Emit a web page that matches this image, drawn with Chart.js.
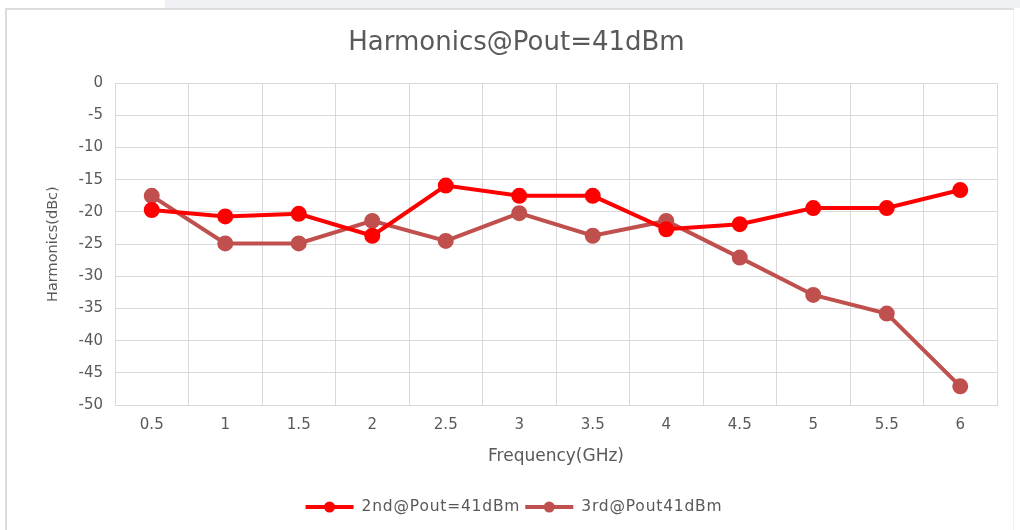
<!DOCTYPE html>
<html>
<head>
<meta charset="utf-8">
<script src="https://cdn.jsdelivr.net/npm/chart.js@4.4.1/dist/chart.umd.min.js"></script>
<style>
  html, body { margin: 0; padding: 0; background: #ffffff; }
  body { width: 1020px; height: 530px; position: relative; overflow: hidden; }
  #band { position: absolute; left: 165px; top: 0; width: 855px; height: 8px; background: #eff0f4; }
  #frame { position: absolute; left: 5px; top: 8px; width: 1006px; height: 530px;
           border-top: 2px solid #dcdcdc; border-left: 2px solid #dcdcdc; border-right: 1px solid #f0f0f0; }
  #wrap { position: absolute; left: 0; top: 0; width: 1020px; height: 530px; }
</style>
</head>
<body>
<div id="band"></div>
<div id="frame"></div>
<div id="wrap"><canvas id="c" width="1020" height="530"></canvas></div>
<script>
const categories = ['0.5','1','1.5','2','2.5','3','3.5','4','4.5','5','5.5','6'];
const second = [-19.7,-20.7,-20.3,-23.7,-15.9,-17.5,-17.5,-22.7,-21.9,-19.4,-19.4,-16.6];
const third  = [-17.5,-24.9,-24.9,-21.4,-24.5,-20.2,-23.7,-21.4,-27.1,-32.9,-35.8,-47.1];
const seriesNames = ['2nd@Pout=41dBm','3rd@Pout41dBm'];
const seriesColors = ['#ff0000','#c0504d'];
const chartTitle = 'Harmonics@Pout=41dBm';
const xTitle = 'Frequency(GHz)';
const yTitle = 'Harmonics(dBc)';

const FONT = '"DejaVu Sans", sans-serif';
const TEXT = '#595959';

const legendPlugin = {
  id: 'excelLegend',
  afterDraw(chart) {
    const ctx = chart.ctx;
    ctx.save();
    ctx.font = '15.5px ' + FONT;
    if ('letterSpacing' in ctx) ctx.letterSpacing = '0.8px';
    ctx.textBaseline = 'middle';
    const y = 507;
    const items = chart.data.datasets.map(d => ({ label: d.label, color: d.borderColor }));
    const lineW = 48, gap = 8, itemGap = 5;
    let total = 0;
    items.forEach((it, i) => { total += lineW + gap + ctx.measureText(it.label).width + (i < items.length - 1 ? itemGap : 0); });
    let x = 514 - total / 2;
    items.forEach(it => {
      ctx.strokeStyle = it.color; ctx.lineWidth = 4;
      ctx.beginPath(); ctx.moveTo(x, y); ctx.lineTo(x + lineW, y); ctx.stroke();
      ctx.fillStyle = it.color;
      ctx.beginPath(); ctx.arc(x + lineW / 2, y, 5.5, 0, Math.PI * 2); ctx.fill();
      x += lineW + gap;
      ctx.fillStyle = TEXT;
      ctx.fillText(it.label, x, y);
      x += ctx.measureText(it.label).width + itemGap;
    });
    ctx.restore();
  }
};

new Chart(document.getElementById('c'), {
  type: 'line',
  data: {
    labels: categories,
    datasets: [
      { label: seriesNames[0], data: second, borderColor: seriesColors[0], backgroundColor: seriesColors[0],
        borderWidth: 4, pointRadius: 6, pointHoverRadius: 6, tension: 0 },
      { label: seriesNames[1], data: third, borderColor: seriesColors[1], backgroundColor: seriesColors[1],
        borderWidth: 4, pointRadius: 6, pointHoverRadius: 6, tension: 0 }
    ]
  },
  options: {
    responsive: false,
    animation: false,
    layout: { padding: { left: 36, right: 23, top: 0, bottom: 55 } },
    plugins: {
      legend: { display: false },
      tooltip: { enabled: false },
      title: {
        display: true, text: chartTitle, color: TEXT,
        font: { family: FONT, size: 26, weight: 'normal', lineHeight: 1.2 },
        padding: { top: 28, bottom: 24 }
      }
    },
    scales: {
      x: {
        offset: true,
        grid: { offset: true, color: '#d9d9d9', lineWidth: 1, drawTicks: false },
        border: { color: '#d9d9d9' },
        ticks: { color: TEXT, font: { family: FONT, size: 15 }, padding: 11, maxRotation: 0 },
        title: { display: true, text: xTitle, color: TEXT, font: { family: FONT, size: 17 }, padding: { top: 0, bottom: 8 } },
        afterFit(s) { s.height = 70; }
      },
      y: {
        min: -50, max: 0,
        grid: { color: '#d9d9d9', lineWidth: 1, drawTicks: false },
        border: { color: '#d9d9d9' },
        ticks: { stepSize: 5, color: TEXT, font: { family: FONT, size: 15 }, padding: 12 },
        title: { display: true, text: yTitle, color: TEXT, font: { family: FONT, size: 14.5 }, padding: { top: 9, bottom: 0 } },
        afterFit(s) { s.width = 79; }
      }
    }
  },
  plugins: [legendPlugin]
});
</script>
</body>
</html>
